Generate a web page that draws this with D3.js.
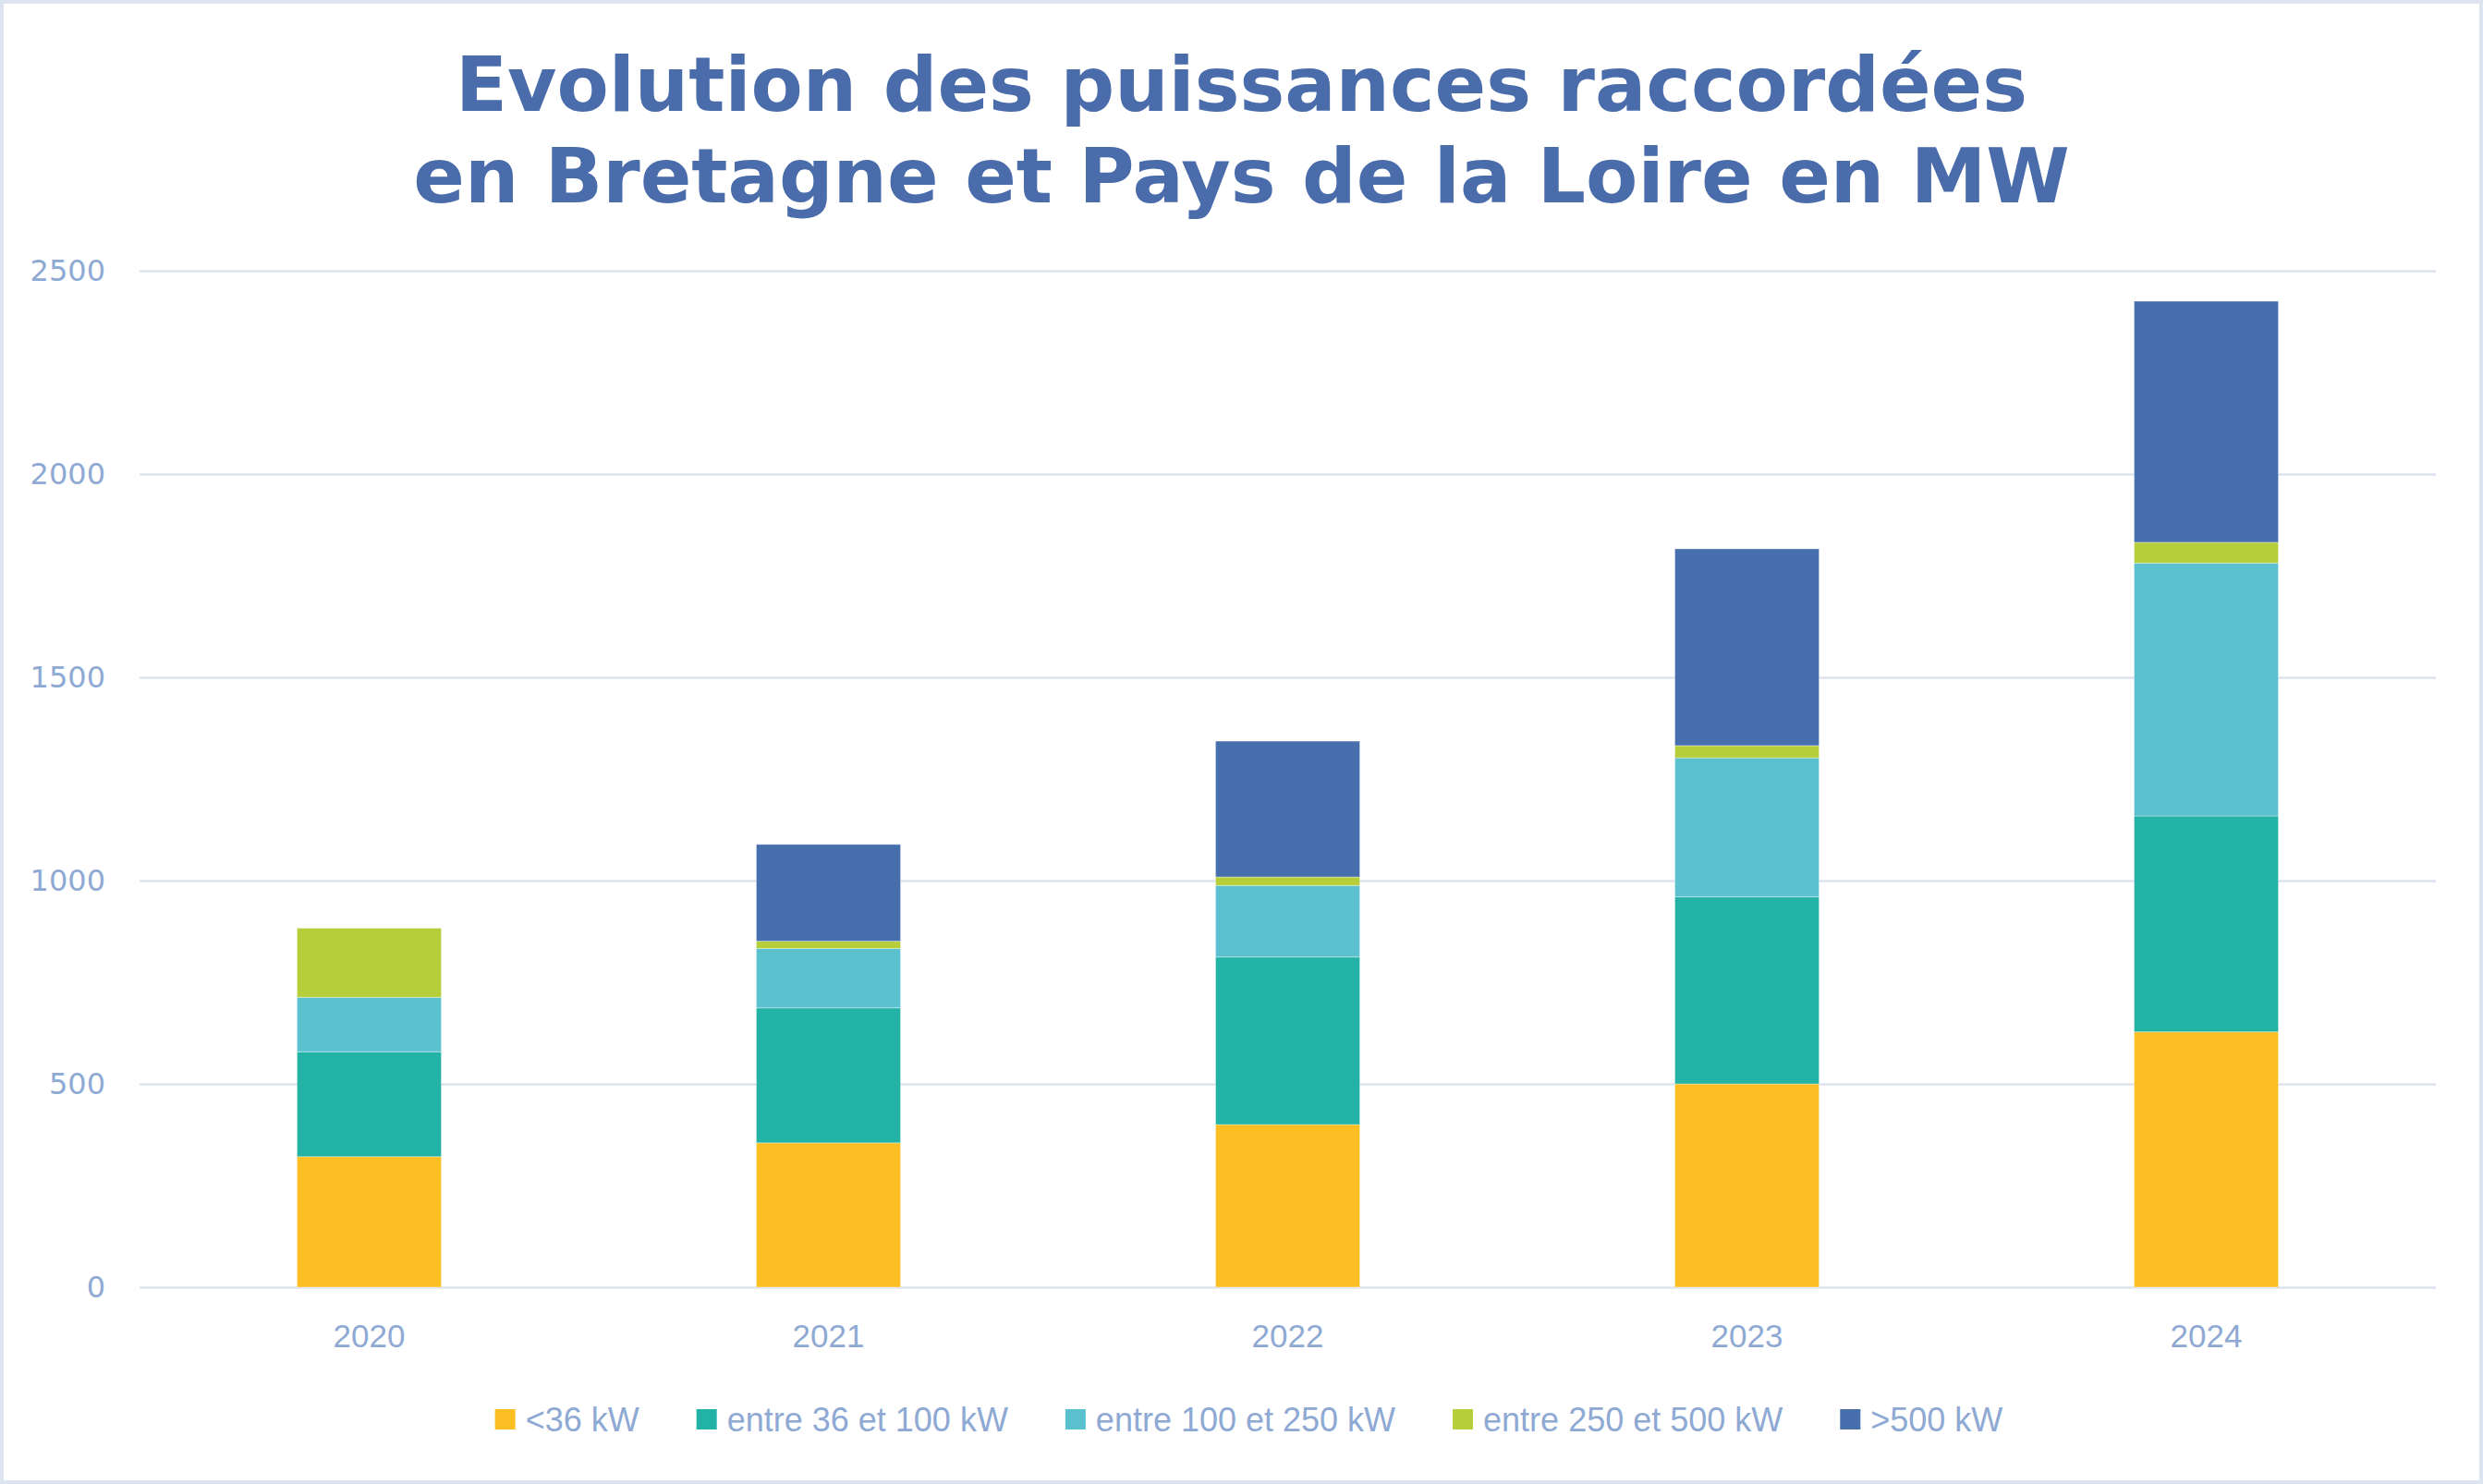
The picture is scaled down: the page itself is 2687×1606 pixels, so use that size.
<!DOCTYPE html>
<html>
<head>
<meta charset="utf-8">
<script src="https://cdn.jsdelivr.net/npm/d3@7"></script>
<style>
  html, body { margin: 0; padding: 0; background: #ffffff; }
  svg { display: block; }
</style>
</head>
<body>
<script>
// ---- Data ----
const categories = ["2020", "2021", "2022", "2023", "2024"];
const seriesNames = ["<36 kW", "entre 36 et 100 kW", "entre 100 et 250 kW", "entre 250 et 500 kW", ">500 kW"];
const valuesLt36 = [321, 355, 400, 500, 628];
const values36to100 = [258, 332, 412, 460, 531];
const values100to250 = [134, 146, 176, 342, 622];
const values250to500 = [170, 18, 21, 30, 51];
const valuesGt500 = [0, 238, 334, 484, 593];
const yTicks = [0, 500, 1000, 1500, 2000, 2500];
const titleLines = ["Evolution des puissances raccordées", "en Bretagne et Pays de la Loire en MW"];
const colors = ["#FBBF24", "#22B2A6", "#5BC1CF", "#B5CE3A", "#476EAD"];

const W = 2687, H = 1606;
const margin = { left: 151, right: 51, top: 293, bottom: 213 };

const seriesValues = [valuesLt36, values36to100, values100to250, values250to500, valuesGt500];
const rows = categories.map((c, i) => {
  const r = { cat: c };
  seriesNames.forEach((s, k) => r[s] = seriesValues[k][i]);
  return r;
});
const stacked = d3.stack().keys(seriesNames)(rows);

const svg = d3.select("body").append("svg").attr("width", W).attr("height", H);
svg.append("rect").attr("x", 2).attr("y", 2).attr("width", W - 4).attr("height", H - 4)
  .attr("fill", "#ffffff").attr("stroke", "#DCE4F0").attr("stroke-width", 4);

const x = d3.scaleBand().domain(categories)
  .range([margin.left, W - margin.right])
  .paddingInner(0.686).paddingOuter(0.343);
const y = d3.scaleLinear().domain([0, 2500]).range([H - margin.bottom, margin.top]);

// gridlines
const grid = svg.append("g").attr("transform", `translate(${margin.left},0)`)
  .call(d3.axisLeft(y).tickValues(yTicks).tickSize(-(W - margin.left - margin.right)).tickFormat(""));
grid.select(".domain").remove();
grid.selectAll("line").attr("stroke", "#DCE3EF").attr("stroke-width", 2.5);

// y labels
const yAx = svg.append("g").attr("transform", `translate(114,0)`)
  .call(d3.axisLeft(y).tickValues(yTicks).tickSize(0).tickPadding(0).tickFormat(d3.format("d")));
yAx.select(".domain").remove();
yAx.selectAll("text").attr("fill", "#8EA9D3").attr("font-family", "DejaVu Sans")
  .attr("font-size", 32).attr("text-anchor", "end");

// bars
svg.append("g").selectAll("g").data(stacked).join("g")
  .attr("fill", (d, i) => colors[i])
  .selectAll("rect").data(d => d).join("rect")
  .attr("x", d => x(d.data.cat))
  .attr("width", x.bandwidth())
  .attr("y", d => y(d[1]))
  .attr("height", d => Math.max(0, y(d[0]) - y(d[1])))
  .attr("stroke", "rgba(255,255,255,0.35)").attr("stroke-width", 1);

// x labels
const xAx = svg.append("g").attr("transform", `translate(0,${H - margin.bottom})`)
  .call(d3.axisBottom(x).tickSize(0).tickPadding(40));
xAx.select(".domain").remove();
xAx.selectAll("text").attr("fill", "#8EA9D3").attr("font-family", "Liberation Sans, Arial, sans-serif")
  .attr("font-size", 35).attr("dy", "0.35em").attr("y", 53);

// title
const title = svg.append("g");
const baselines = [120, 219];
titleLines.forEach((t, i) => {
  title.append("text").attr("x", W / 2).attr("y", baselines[i])
    .attr("text-anchor", "middle").attr("font-family", "DejaVu Sans").attr("font-weight", "bold")
    .attr("font-size", 82).attr("fill", "#4A6CAB").text(t);
});

// legend
const legend = svg.append("g");
const items = legend.selectAll("g").data(seriesNames).join("g");
items.append("rect").attr("width", 22).attr("height", 22).attr("y", -11)
  .attr("fill", (d, i) => colors[i]);
items.append("text").attr("x", 33).attr("dy", "0.35em")
  .attr("font-family", "Liberation Sans, Arial, sans-serif").attr("font-size", 36)
  .attr("fill", "#8EA9D3").text(d => d);
let cx = 0;
const offs = [];
items.each(function () {
  const tw = d3.select(this).select("text").node().getComputedTextLength();
  offs.push(cx);
  cx += 33 + tw + 62;
});
const totalW = cx - 62;
items.attr("transform", (d, i) => `translate(${offs[i]},0)`);
legend.attr("transform", `translate(${W / 2 - totalW / 2 + 8},1536)`);
</script>
</body>
</html>
